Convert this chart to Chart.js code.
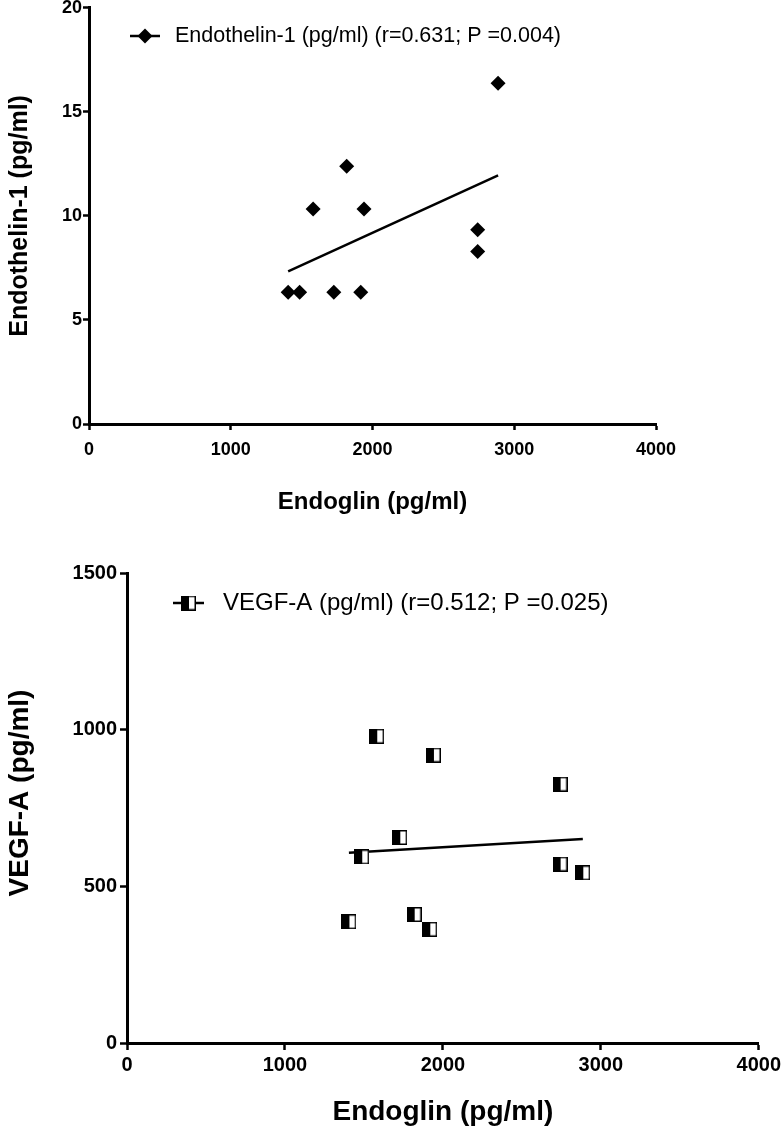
<!DOCTYPE html>
<html>
<head>
<meta charset="utf-8">
<script src="https://cdn.jsdelivr.net/npm/chart.js"></script>
<style>
  body { margin: 0; background: #fff; }
  #wrap { position: relative; width: 784px; height: 1138px; overflow: hidden; }
  canvas { position: absolute; left: 0; }
  #top { top: -4px; }
  #bottom { top: 545px; }
</style>
</head>
<body>
<div id="wrap">
  <canvas id="top" width="784" height="534"></canvas>
  <canvas id="bottom" width="784" height="593"></canvas>
</div>
<script>
// Endoglin values shared by both panels (pg/ml)
const endoglin = [1405, 1486, 1581, 1727, 1818, 1917, 1940, 2742, 2742, 2886];
const endothelin = [6.33, 6.33, 10.33, 6.33, 12.38, 6.33, 10.33, 9.33, 8.29, 16.38];
const vegfA = [387, 594, 979, 656, 410, 363, 919, 826, 571, 543];

// regression line ends
const fitX = [1405, 2886];
const endothelinFit = [7.33, 11.95];
const vegfFit = [607, 651];

const xTicks = [0, 1000, 2000, 3000, 4000];
const endothelinTicks = [0, 5, 10, 15, 20];
const vegfTicks = [0, 500, 1000, 1500];

const endothelinLabel = 'Endothelin-1 (pg/ml) (r=0.631; P =0.004)';
const vegfLabel = 'VEGF-A (pg/ml) (r=0.512; P =0.025)';

const FONT = 'Arial, "Liberation Sans", sans-serif';

function pairs(xs, ys) {
  return xs.map((x, i) => ({ x: x, y: ys[i] }));
}

// half black / half white square marker
function halfSquare(size) {
  const c = document.createElement('canvas');
  c.width = size; c.height = size;
  const g = c.getContext('2d');
  g.fillStyle = '#000';
  g.fillRect(0, 0, size, size);
  g.fillStyle = '#fff';
  g.fillRect(size / 2 + 0.5, 1.5, size / 2 - 2, size - 3);
  return c;
}
const vegfMarker = halfSquare(15);

// legend drawn inside the plot area, like the original
const insideLegend = {
  id: 'insideLegend',
  afterDraw(chart, args, o) {
    const ctx = chart.ctx;
    ctx.save();
    ctx.strokeStyle = '#000';
    ctx.lineWidth = 2.5;
    ctx.beginPath();
    ctx.moveTo(o.x1, o.y);
    ctx.lineTo(o.x2, o.y);
    ctx.stroke();
    const cx = (o.x1 + o.x2) / 2;
    ctx.fillStyle = '#000';
    if (o.marker === 'diamond') {
      const r = o.radius;
      ctx.beginPath();
      ctx.moveTo(cx, o.y - r);
      ctx.lineTo(cx + r, o.y);
      ctx.lineTo(cx, o.y + r);
      ctx.lineTo(cx - r, o.y);
      ctx.closePath();
      ctx.fill();
    } else {
      ctx.drawImage(o.marker, cx - o.marker.width / 2, o.y - o.marker.height / 2);
    }
    ctx.font = o.font;
    ctx.textBaseline = 'middle';
    ctx.fillText(o.text, o.textX, o.y);
    // optional hand-placed y title
    if (o.yTitle) {
      ctx.translate(o.yTitle.x, o.yTitle.y);
      ctx.rotate(-Math.PI / 2);
      ctx.font = o.yTitle.font;
      ctx.textAlign = 'center';
      ctx.fillText(o.yTitle.text, 0, 0);
    }
    ctx.restore();
  }
};

function axis(opts) {
  return {
    type: 'linear',
    min: opts.min,
    max: opts.max,
    afterBuildTicks: (s) => { s.ticks = opts.ticks.map(v => ({ value: v })); },
    afterFit: (s) => { if (opts.width) s.width = opts.width; if (opts.height) s.height = opts.height; },
    ticks: {
      color: '#000',
      font: { family: FONT, size: opts.tickSize, weight: 'bold' },
      padding: opts.tickPad,
      callback: (v) => String(v)
    },
    grid: {
      display: true,
      drawOnChartArea: false,
      drawTicks: true,
      tickLength: opts.tickLen,
      tickWidth: 2.5,
      tickColor: '#000'
    },
    border: { display: true, color: '#000', width: 3 },
    title: {
      display: opts.showTitle !== false,
      text: opts.title,
      color: '#000',
      font: { family: FONT, size: opts.titleSize, weight: 'bold' },
      padding: opts.titlePad
    }
  };
}

function makeChart(id, cfg) {
  return new Chart(document.getElementById(id).getContext('2d'), {
    type: 'scatter',
    data: {
      datasets: [{
        label: cfg.legend.text,
        data: pairs(endoglin, cfg.values),
        pointStyle: cfg.pointStyle,
        pointRadius: cfg.pointRadius,
        pointBackgroundColor: '#000',
        pointBorderWidth: 0,
        showLine: false
      }, {
        label: 'fit',
        data: pairs(fitX, cfg.fit),
        showLine: true,
        borderColor: '#000',
        borderWidth: 2.5,
        pointRadius: 0
      }]
    },
    options: {
      responsive: false,
      animation: false,
      devicePixelRatio: 1,
      layout: { padding: cfg.padding },
      plugins: {
        legend: { display: false },
        tooltip: { enabled: false },
        insideLegend: cfg.legend
      },
      scales: { x: cfg.x, y: cfg.y }
    },
    plugins: [insideLegend]
  });
}

makeChart('top', {
  values: endothelin,
  fit: endothelinFit,
  pointStyle: 'rectRot',
  pointRadius: 7.5,
  padding: { top: 11, right: 128, left: 0, bottom: 0 },
  legend: { x1: 130, x2: 160, y: 40, radius: 7.5, marker: 'diamond', text: endothelinLabel, textX: 175, font: '21.5px ' + FONT },
  x: axis({ min: 0, max: 4000, ticks: xTicks, height: 106, tickSize: 18, tickPad: 9, tickLen: 6,
            title: 'Endoglin (pg/ml)', titleSize: 24, titlePad: { top: 0, bottom: 13 } }),
  y: axis({ min: 0, max: 20, ticks: endothelinTicks, width: 89, tickSize: 18, tickPad: 1, tickLen: 6,
            title: 'Endothelin-1 (pg/ml)', titleSize: 25, titlePad: { top: 5, bottom: 0 } })
});

makeChart('bottom', {
  values: vegfA,
  fit: vegfFit,
  pointStyle: vegfMarker,
  pointRadius: 7.5,
  padding: { top: 28, right: 24, left: 0, bottom: 0 },
  legend: { x1: 173, x2: 204, y: 58, marker: vegfMarker, text: vegfLabel, textX: 223, font: '24px ' + FONT,
            yTitle: { text: 'VEGF-A (pg/ml)', x: 20, y: 248, font: 'bold 28px ' + FONT } },
  x: axis({ min: 0, max: 4000, ticks: xTicks, height: 95, tickSize: 20, tickPad: 3, tickLen: 7,
            title: 'Endoglin (pg/ml)', titleSize: 28, titlePad: { top: 0, bottom: 9 } }),
  y: axis({ min: 0, max: 1500, ticks: vegfTicks, width: 127, tickSize: 20, tickPad: 3, tickLen: 7,
            title: 'VEGF-A (pg/ml)', showTitle: false, titleSize: 28, titlePad: { top: 3, bottom: 0 } })
});
</script>
</body>
</html>
